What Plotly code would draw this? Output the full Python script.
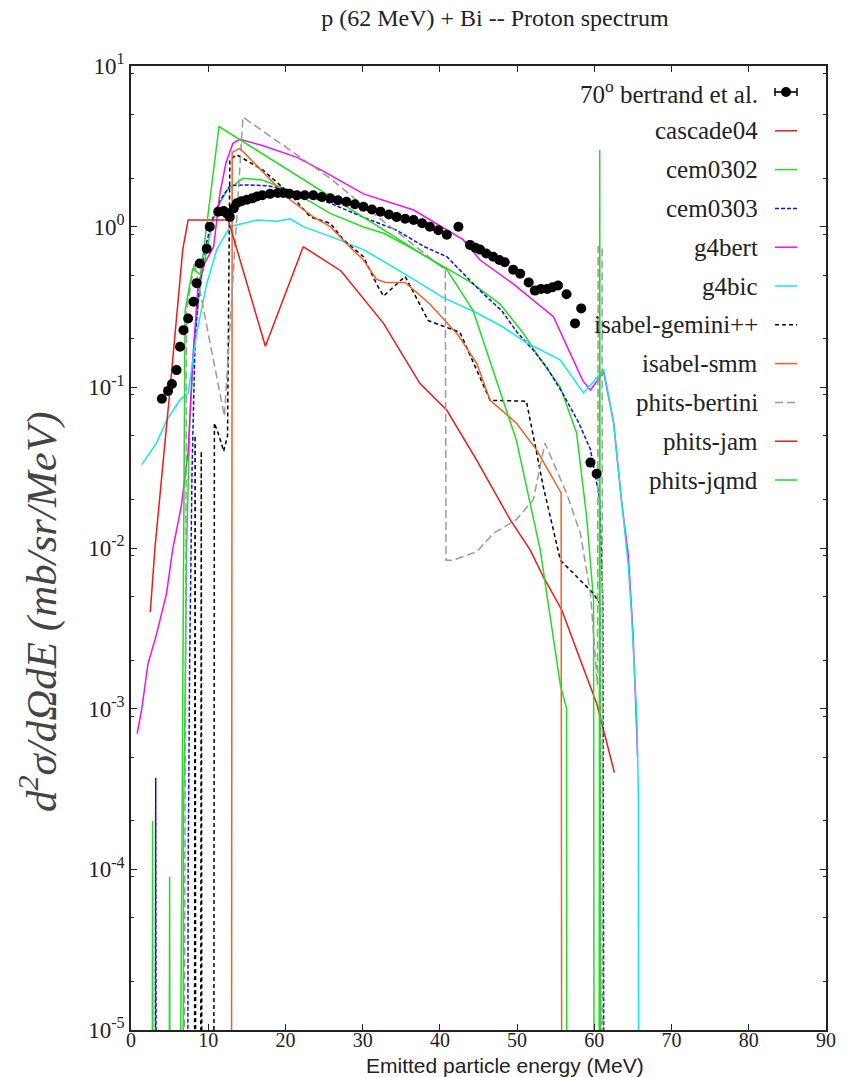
import plotly.graph_objects as go

Z = 1e-7  # "zero" bins, drawn below the axis floor

# ---------------- data ----------------
exp_E = [4.0, 4.8, 5.3, 5.9, 6.35, 6.8, 7.4, 8.1, 8.5, 8.9, 9.8, 10.2, 11.3, 12.0, 12.4, 12.8,
         13.3, 13.7, 14.3, 15.0, 15.7, 16.3, 17.0, 18.0, 19.0, 19.7, 20.5, 21.5, 22.5, 23.6,
         24.7, 25.8, 26.8, 27.9, 29.0, 30.1, 31.2, 32.3, 33.4, 34.4, 35.5, 36.6, 37.7, 38.7,
         39.8, 40.9, 42.4, 43.9, 44.6, 45.2, 46.0, 46.9, 47.7, 48.4, 49.5, 50.4, 51.5, 52.3,
         53.1, 53.9, 54.6, 55.3, 56.4, 57.5, 58.3, 59.5, 60.3]
exp_V = [0.085, 0.095, 0.105, 0.128, 0.179, 0.227, 0.268, 0.341, 0.445, 0.59, 0.73, 1.0, 1.24,
         1.25, 1.21, 1.15, 1.3, 1.4, 1.44, 1.47, 1.5, 1.54, 1.57, 1.6, 1.62, 1.62, 1.6, 1.57,
         1.57, 1.57, 1.53, 1.5, 1.46, 1.43, 1.38, 1.33, 1.28, 1.24, 1.19, 1.15, 1.12, 1.1,
         1.05, 1.0, 0.95, 0.89, 1.0, 0.77, 0.74, 0.72, 0.68, 0.65, 0.62, 0.6, 0.54, 0.51, 0.45,
         0.40, 0.41, 0.41, 0.42, 0.43, 0.38, 0.25, 0.31, 0.034, 0.029]

cascade04_E = [22.3, 27.2, 32.7, 34.8, 37.4, 40.9, 44.8, 49.1, 51.7, 53.4, 55.8, 58.2, 60.3, 62.6]
cascade04_V = [0.75, 0.53, 0.25, 0.17, 0.106, 0.072, 0.035, 0.015, 0.0097, 0.0066, 0.0041,
               0.002, 0.00108, 0.0004]

cem0302_E = [6.7, 6.8, 7.0, 7.2, 7.6, 8.2, 9.0, 9.8, 10.5, 11.5, 12.5, 14.5, 17.0, 19.3, 22.0,
             25.8, 30.0, 32.7, 36.0, 40.9, 44.0, 47.8, 50.8, 53.0, 55.6, 57.7, 59.0, 59.9, 60.0]
cem0302_V = [Z, 2e-4, 1.1e-3, 0.01, 0.06, 0.2, 0.45, 0.72, 1.05, 1.4, 1.7, 2.0, 1.95, 1.77,
             1.55, 1.21, 1.0, 0.91, 0.75, 0.55, 0.45, 0.33, 0.217, 0.15, 0.1, 0.052, 0.0157,
             0.0047, Z]

cem0303_E = [3.1, 3.2, 3.3, 7.3, 7.4, 7.6, 7.9, 8.3, 8.8, 9.5, 10.5, 11.5, 12.8, 15.0, 17.5,
             20.0, 22.5, 25.8, 30.0, 34.4, 38.0, 40.9, 45.2, 48.0, 50.0, 52.1, 53.8, 56.0, 58.0,
             59.5, 60.7, 61.1, 61.3]
cem0303_V = [Z, 3.7e-4, Z, Z, 1e-4, 2e-3, 0.03, 0.2, 0.4, 0.7, 1.1, 1.45, 1.8, 1.82, 1.8, 1.72,
             1.58, 1.4, 1.15, 0.95, 0.75, 0.65, 0.40, 0.3, 0.22, 0.17, 0.134, 0.09, 0.06, 0.041,
             0.02, 0.0047, Z]

g4bert_E = [0.8, 1.4, 2.2, 3.3, 4.6, 5.4, 6.5, 7.4, 8.0, 8.7, 9.6, 10.7, 11.5, 12.3, 13.2,
            14.1, 17.0, 21.5, 25.0, 30.1, 36.6, 43.0, 45.2, 49.5, 54.7, 57.3, 58.5, 59.5, 61.2,
            62.5, 63.5, 64.4, 65.0, 65.5, 65.6]
g4bert_V = [7e-4, 1e-3, 1.9e-3, 2.9e-3, 5.2e-3, 9.8e-3, 0.018, 0.04, 0.15, 0.44, 0.6, 0.75,
            1.6, 2.5, 3.3, 3.5, 3.2, 2.7, 2.2, 1.6, 1.27, 0.83, 0.62, 0.44, 0.275, 0.148, 0.11,
            0.096, 0.125, 0.06, 0.02, 0.009, 0.003, 7e-4, 5e-4]

g4bic_E = [1.4, 3.3, 4.6, 6.3, 7.4, 8.5, 9.8, 11.1, 12.8, 14.5, 16.3, 18.9, 20.6, 22.3, 25.8,
           30.1, 35.7, 40.5, 44.8, 48.0, 51.2, 55.6, 57.5, 58.6, 60.0, 61.2, 62.5, 63.5, 64.4,
           64.8, 65.5, 65.7, 65.75]
g4bic_V = [0.033, 0.045, 0.062, 0.083, 0.092, 0.217, 0.44, 0.72, 1.0, 1.05, 1.1, 1.08, 1.12,
           1.0, 0.87, 0.72, 0.5, 0.36, 0.29, 0.24, 0.19, 0.148, 0.11, 0.092, 0.11, 0.13, 0.06,
           0.02, 0.0077, 0.004, 9e-4, 3e-4, Z]

gemini_E = [8.2, 8.3, 8.4, 9.0, 9.1, 9.2, 10.7, 10.8, 11.4, 12.0, 12.5, 12.8, 13.7, 17.1, 20.6,
            23.2, 25.8, 27.5, 30.1, 31.8, 32.7, 35.5, 38.5, 40.5, 42.6, 46.5, 51.2, 53.4, 55.6,
            59.9, 60.7, 60.9]
gemini_V = [Z, 0.05, Z, Z, 0.04, Z, Z, 0.06, 0.05, 0.04, 0.05, 2.6, 2.8, 2.25, 1.6, 1.15, 1.05,
            0.83, 0.65, 0.44, 0.37, 0.49, 0.26, 0.24, 0.22, 0.083, 0.082, 0.024, 0.0084, 0.0052,
            0.0045, Z]

smm_E = [13.0, 13.1, 14.1, 17.1, 20.6, 23.6, 25.8, 28.3, 30.1, 31.8, 33.0, 35.5, 38.7, 42.4,
         44.8, 46.5, 49.9, 52.5, 55.7, 55.8]
smm_V = [Z, 2.9, 3.07, 2.2, 1.47, 1.15, 1.0, 0.75, 0.62, 0.47, 0.45, 0.45, 0.33, 0.21, 0.14,
         0.083, 0.06, 0.041, 0.022, Z]

bertini_E = [6.8, 7.2, 8.2, 12.1, 14.5, 19.7, 25.8, 30.1, 35.0, 40.7, 40.8, 41.7, 44.8, 46.9,
             49.9, 52.1, 53.6, 56.4, 58.2, 59.5, 60.4, 60.5, 61.0, 61.1]
bertini_V = [Z, 0.3, 0.6, 0.066, 4.8, 3.2, 2.0, 1.35, 0.88, 0.54, 0.0084, 0.0084, 0.0095,
             0.0123, 0.015, 0.02, 0.045, 0.022, 0.0123, 0.0052, 0.0014, 0.75, 0.75, Z]

jam_E = [2.5, 3.1, 5.0, 6.7, 7.4, 12.6, 17.4, 22.3]
jam_V = [0.004, 0.01, 0.091, 0.72, 1.1, 1.1, 0.18, 0.75]

jqmd_E = [2.7, 2.8, 2.9, 4.9, 5.0, 5.1, 6.2, 7.0, 8.0, 9.0, 11.4, 40.9, 44.3, 49.9, 53.0, 55.6,
          56.4, 56.45, 60.6, 60.7, 60.8]
jqmd_V = [Z, 2e-4, Z, Z, 9e-5, Z, Z, 0.3, 0.55, 0.5, 4.2, 0.54, 0.30, 0.047, 0.0097, 0.0014,
          0.001, Z, Z, 3.0, Z]

series = [
    ("cascade04", cascade04_E, cascade04_V, "#f01818", "solid"),
    ("cem0302", cem0302_E, cem0302_V, "#22dd22", "solid"),
    ("cem0303", cem0303_E, cem0303_V, "#1010e0", "4px,2px"),
    ("g4bert", g4bert_E, g4bert_V, "#f010f0", "solid"),
    ("g4bic", g4bic_E, g4bic_V, "#10e8f0", "solid"),
    ("isabel-gemini++", gemini_E, gemini_V, "#000000", "4px,3px"),
    ("isabel-smm", smm_E, smm_V, "#f06020", "solid"),
    ("phits-bertini", bertini_E, bertini_V, "#9a9a9a", "8px,4px"),
    ("phits-jam", jam_E, jam_V, "#f01818", "solid"),
    ("phits-jqmd", jqmd_E, jqmd_V, "#22dd22", "solid"),
]

y_ticks = [1e-5, 1e-4, 1e-3, 1e-2, 1e-1, 1e0, 1e1]
y_ticktext = ["10<sup>-5</sup>", "10<sup>-4</sup>", "10<sup>-3</sup>", "10<sup>-2</sup>",
              "10<sup>-1</sup>", "10<sup>0</sup>", "10<sup>1</sup>"]
y_minor = [m * 10.0 ** k for k in range(-5, 1) for m in (2, 5, 9)]

fig = go.Figure()
for name, E, V, col, dash in series:
    fig.add_trace(go.Scatter(x=E, y=V, mode="lines", name=name, showlegend=False,
                             line=dict(color=col, width=1.5, dash=dash)))
fig.add_trace(go.Scatter(x=exp_E, y=exp_V, mode="markers", name="70° bertrand et al.",
                         showlegend=False, marker=dict(color="black", size=10)))

SERIF = "Liberation Serif"
W, H = 695.0, 964.0  # plot area size in px
fig.update_layout(
    width=858, height=1077,
    margin=dict(l=131, r=32, t=66, b=47),
    paper_bgcolor="white", plot_bgcolor="white",
    title=dict(text="p (62 MeV) + Bi -- Proton spectrum", x=495 / 858, xanchor="center",
               y=1 - 18 / 1077, yanchor="middle", font=dict(family=SERIF, size=24, color="#222")),
    xaxis=dict(range=[0, 90], dtick=10, ticks="inside", ticklen=6, tickcolor="#222",
               showline=True, linecolor="#222", linewidth=1.5, mirror="ticks", showgrid=False,
               zeroline=False, automargin=False, ticklabelstandoff=-9,
               tickfont=dict(family=SERIF, size=20, color="#222")),
    yaxis=dict(type="log", range=[-5, 1], tickvals=y_ticks, ticktext=y_ticktext,
               ticks="inside", ticklen=6, tickcolor="#222", showline=True, linecolor="#222",
               linewidth=1.5, mirror="ticks", showgrid=False, zeroline=False, automargin=False,
               tickfont=dict(family=SERIF, size=23, color="#222"),
               minor=dict(tickvals=y_minor, ticks="inside", ticklen=3, tickcolor="#222")),
)

# x-axis title (placed as in the reference)
fig.add_annotation(text="Emitted particle energy (MeV)", xref="paper", yref="paper",
                   x=(505 - 131) / W, y=-(1065 - 1030) / H, xanchor="center", yanchor="middle",
                   showarrow=False, borderpad=0,
                   font=dict(family="Liberation Sans", size=21, color="#222"))

# y-axis title as rotated annotation (placed as in the reference)
fig.add_annotation(text="<i>d<sup>2</sup>σ/dΩdE (mb/sr/MeV)</i>", xref="paper", yref="paper",
                   x=(38 - 131) / W, y=1 - (612 - 66) / H, textangle=-90, showarrow=False,
                   xanchor="center", yanchor="middle",
                   font=dict(family=SERIF, size=43, color="#444"))

# ---------------- manual legend (text right, sample after it) ----------------
legend_entries = [("70<sup>o</sup> bertrand et al.", "black", "solid", True)] + \
    [(n, c, d, False) for n, _, _, c, d in series]
tx = (760 - 131) / W
s0, s1 = (775 - 131) / W, (797 - 131) / W
for i, (label, col, dash, is_exp) in enumerate(legend_entries):
    py = 92 + i * 38.8
    yy = 1 - (py - 66) / H
    fig.add_annotation(text=label, xref="paper", yref="paper", x=tx, y=yy, xanchor="right",
                       yanchor="middle", showarrow=False,
                       font=dict(family=SERIF, size=25, color="#222"))
    fig.add_shape(type="line", xref="paper", yref="paper", x0=s0, x1=s1, y0=yy, y1=yy,
                  line=dict(color=col, width=1.6 if is_exp else 1.5, dash=dash))
    if is_exp:
        for sx in (s0, s1):
            fig.add_shape(type="line", xref="paper", yref="paper", x0=sx, x1=sx,
                          y0=yy - 4 / H, y1=yy + 4 / H, line=dict(color="black", width=1.5))
        cx = (s0 + s1) / 2
        fig.add_shape(type="circle", xref="paper", yref="paper", x0=cx - 5 / W, x1=cx + 5 / W,
                      y0=yy - 5 / H, y1=yy + 5 / H, fillcolor="black",
                      line=dict(color="black", width=0))

fig.write_html("out.html")
